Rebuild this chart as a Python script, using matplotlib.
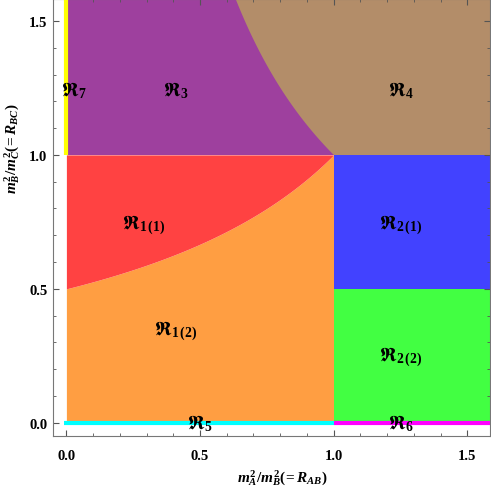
import numpy as np
import matplotlib
matplotlib.use("Agg")
import matplotlib.pyplot as plt

plt.rcParams['font.family'] = ['Liberation Serif', 'DejaVu Serif']
plt.rcParams['mathtext.fontset'] = 'custom'
plt.rcParams['mathtext.rm'] = 'Liberation Serif:bold'
plt.rcParams['mathtext.it'] = 'Liberation Serif:bold:italic'
plt.rcParams['mathtext.bf'] = 'Liberation Serif:bold'
plt.rcParams['mathtext.fallback'] = 'stix'

# ---- region definitions (thresholds) ----
x_split = 1.0          # R_AB = 1 boundary
y_split_top = 1.0      # R_BC = 1 boundary
y_split_mid = 0.5      # R_BC = 0.5 boundary (right side)
x_max = 1.585
y_max = 1.58

# region colours
colors = {
    'R1_1': '#FF4242',
    'R1_2': '#FF9E42',
    'R2_1': '#4242FF',
    'R2_2': '#42FF42',
    'R3': '#9E409E',
    'R4': '#B38D69',
    'R5': '#00FFFF',
    'R6': '#FF00FF',
    'R7': '#FFFF00',
}

# label texts and positions (data coords)
labels = ['R7', 'R3', 'R4', 'R1(1)', 'R2(1)', 'R1(2)', 'R2(2)', 'R5', 'R6']
subs = ['7', '3', '4', r'1\,(1)', r'2\,(1)', r'1\,(2)', r'2\,(2)', '5', '6']
label_text = [r'$\mathbf{ℜ}_{\mathit{%s}}$' % s for s in subs]
label_x = [0.03, 0.41, 1.25, 0.29, 1.25, 0.41, 1.25, 0.50, 1.25]
label_y = [1.245, 1.245, 1.245, 0.74, 0.74, 0.345, 0.25, 0.0, 0.0]

# boundary curves
xl = np.linspace(0, x_split, 400)
curve_low = 1.0 / (2.0 - xl)          # red / orange boundary
xt = np.linspace(1.0 / y_max, x_split, 400)
curve_top = 1.0 / xt                  # purple / brown boundary

fig = plt.figure(figsize=(4.91, 4.89), dpi=100)
ax = fig.add_axes([0.108, 0.106, 0.890, 0.893])

# left block
ax.fill_between(xl, 0, curve_low, color=colors['R1_2'], lw=0)
ax.fill_between(xl, curve_low, y_split_top, color=colors['R1_1'], lw=0)
ax.fill_between([0, x_split], y_split_top, y_max, color=colors['R3'], lw=0)
ax.fill_between(xt, curve_top, y_max, color=colors['R4'], lw=0)
# right block
ax.fill_between([x_split, x_max], 0, y_split_mid, color=colors['R2_2'], lw=0)
ax.fill_between([x_split, x_max], y_split_mid, y_split_top, color=colors['R2_1'], lw=0)
ax.fill_between([x_split, x_max], y_split_top, y_max, color=colors['R4'], lw=0)

# boundary lines
lw = 3.0
ax.plot([-0.008, x_split], [0, 0], color=colors['R5'], lw=lw, solid_capstyle='butt', zorder=3)
ax.plot([x_split, x_max], [0, 0], color=colors['R6'], lw=lw, solid_capstyle='butt', zorder=3)
ax.plot([0, 0], [y_split_top, y_max], color=colors['R7'], lw=lw, solid_capstyle='butt', zorder=3)

for t, x, y in zip(label_text, label_x, label_y):
    ax.text(x, y, t, fontsize=14, ha='center', va='center', zorder=5, color='black')

ax.set_xlim(-0.05, x_max)
ax.set_ylim(-0.05, y_max)

ax.set_xticks([0, 0.5, 1.0, 1.5])
ax.set_yticks([0, 0.5, 1.0, 1.5])
ax.set_xticks(np.arange(0, 1.6, 0.1), minor=True)
ax.set_yticks(np.arange(0, 1.6, 0.1), minor=True)
ax.set_xticklabels(['0.0', '0.5', '1.0', '1.5'], fontweight='bold', fontsize=10.5)
ax.set_yticklabels(['0.0', '0.5', '1.0', '1.5'], fontweight='bold', fontsize=10.5)
ax.tick_params(which='both', direction='in', top=True, right=True, colors='#555555',
               labelcolor='black')
ax.tick_params(which='major', length=4.5, width=0.8)
ax.tick_params(which='minor', length=2.5, width=0.6)
ax.tick_params(axis='x', which='major', pad=9)
ax.tick_params(axis='y', which='major', pad=4)
for s in ax.spines.values():
    s.set_color('#777777')
    s.set_linewidth(0.8)

ax.set_xlabel(r'$m_A^2/m_B^2(\!{=}R_{AB})$', fontsize=11)
ax.set_ylabel(r'$m_B^2/m_C^2(\!{=}R_{BC})$', fontsize=11)
ax.xaxis.set_label_coords(0.524, -0.072)
ax.yaxis.set_label_coords(-0.072, 0.66)

fig.savefig('out.png', dpi=100)
